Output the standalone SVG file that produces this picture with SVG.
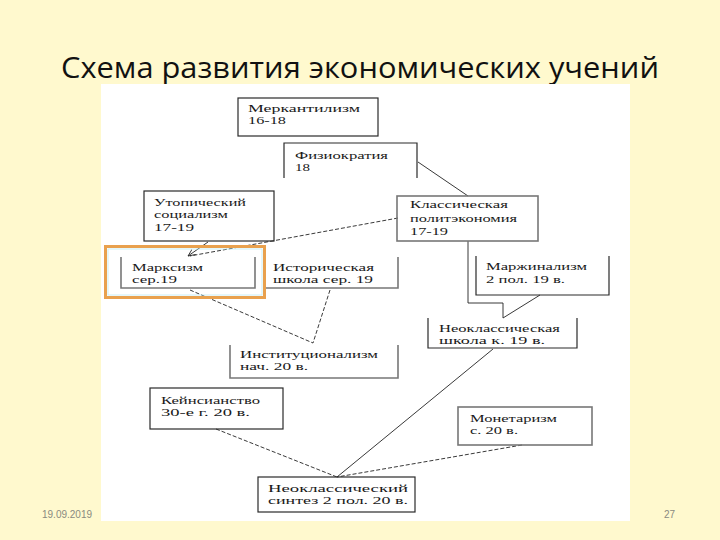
<svg xmlns="http://www.w3.org/2000/svg" width="720" height="540" viewBox="0 0 720 540">
<defs>
<style>
.t{font-family:"Liberation Serif","Times New Roman",serif;font-size:11px;fill:#1a1a1a}
.b{fill:none;stroke:#2a2a2a;stroke-width:1.2}
.g{fill:none;stroke:#777;stroke-width:1.6}
.c{fill:none;stroke:#222;stroke-width:0.9}
.d{fill:none;stroke:#222;stroke-width:0.9;stroke-dasharray:4 2}
.f{font-family:"Liberation Sans",Arial,sans-serif;font-size:10px;fill:#8a8a80}
</style>
<marker id="ah" viewBox="0 0 10 10" refX="9" refY="5" markerWidth="8" markerHeight="8" orient="auto" markerUnits="userSpaceOnUse">
<path d="M0,1 L9,5 L0,9" fill="none" stroke="#222" stroke-width="1"/>
</marker>
</defs>
<rect x="0" y="0" width="720" height="540" fill="#FFF9CE"/>
<text x="360" y="78" text-anchor="middle" font-family="Open Sans,Liberation Sans,sans-serif" font-size="30" fill="#111" textLength="598" lengthAdjust="spacingAndGlyphs">Схема развития экономических учений</text>
<rect x="101" y="84" width="529" height="437" fill="#FFFFFF"/>
<g id="connectors">
<line class="c" x1="418" y1="162" x2="468" y2="196"/>
<line class="c" x1="208" y1="242" x2="188" y2="256" marker-end="url(#ah)"/>
<line class="d" x1="398" y1="218" x2="190" y2="256"/>
<polyline class="c" points="468,241 468,303 503,303 503,318"/>
<line class="c" x1="540" y1="295" x2="503" y2="318"/>
<line class="d" x1="190" y1="290" x2="313" y2="343"/>
<line class="d" x1="330" y1="290" x2="313" y2="343"/>
<line class="d" x1="216" y1="429" x2="337" y2="477"/>
<line class="c" x1="493" y1="349" x2="337" y2="477"/>
<line class="d" x1="522" y1="445" x2="337" y2="477"/>
</g>
<g id="merkantilizm">
<rect class="b" x="238" y="98" width="140" height="38"/>
<text class="t" x="248" y="112" textLength="112" lengthAdjust="spacingAndGlyphs">Меркантилизм</text>
<text class="t" x="248" y="124" textLength="38" lengthAdjust="spacingAndGlyphs">16-18</text>
</g>
<g id="fiziokratiya">
<polyline class="b" points="284,178 284,143 417,143 417,178"/>
<text class="t" x="295" y="159" textLength="93" lengthAdjust="spacingAndGlyphs">Физиократия</text>
<text class="t" x="295" y="171" textLength="15" lengthAdjust="spacingAndGlyphs">18</text>
</g>
<g id="utopicheskiy">
<rect class="b" x="144" y="191" width="130" height="50"/>
<text class="t" x="154" y="206" textLength="92" lengthAdjust="spacingAndGlyphs">Утопический</text>
<text class="t" x="154" y="218" textLength="74" lengthAdjust="spacingAndGlyphs">социализм</text>
<text class="t" x="154" y="231" textLength="40" lengthAdjust="spacingAndGlyphs">17-19</text>
</g>
<g id="klassicheskaya">
<rect class="g" x="397" y="196" width="141" height="45"/>
<text class="t" x="410" y="208" textLength="98" lengthAdjust="spacingAndGlyphs">Классическая</text>
<text class="t" x="410" y="222" textLength="107" lengthAdjust="spacingAndGlyphs">политэкономия</text>
<text class="t" x="410" y="235" textLength="38" lengthAdjust="spacingAndGlyphs">17-19</text>
</g>
<g id="marksizm">
<polyline class="g" points="121,257 121,288 255,288 255,257"/>
<rect x="105.5" y="246.5" width="159" height="51" fill="none" stroke="#E9A14E" stroke-width="3"/>
<rect x="108" y="249" width="154" height="46" fill="none" stroke="#BDEBF2" stroke-width="0.8"/>
<text class="t" x="132" y="271" textLength="71" lengthAdjust="spacingAndGlyphs">Марксизм</text>
<text class="t" x="132" y="283" textLength="45" lengthAdjust="spacingAndGlyphs">сер.19</text>
</g>
<g id="istoricheskaya">
<polyline class="g" points="266,288 398,288 398,257"/>
<text class="t" x="273" y="271" textLength="101" lengthAdjust="spacingAndGlyphs">Историческая</text>
<text class="t" x="273" y="283" textLength="100" lengthAdjust="spacingAndGlyphs">школа сер. 19</text>
</g>
<g id="marzhinalizm">
<polyline class="b" points="476,256 476,295 609,295 609,256"/>
<text class="t" x="486" y="270" textLength="101" lengthAdjust="spacingAndGlyphs">Маржинализм</text>
<text class="t" x="486" y="283" textLength="79" lengthAdjust="spacingAndGlyphs">2 пол. 19 в.</text>
</g>
<g id="neoklassicheskaya">
<polyline class="b" points="428,318 428,348 577,348 577,318"/>
<text class="t" x="439" y="332" textLength="121" lengthAdjust="spacingAndGlyphs">Неоклассическая</text>
<text class="t" x="439" y="344" textLength="106" lengthAdjust="spacingAndGlyphs">школа к. 19 в.</text>
</g>
<g id="institucionalizm">
<polyline class="g" points="230,345 230,378 398,378 398,345"/>
<text class="t" x="240" y="358" textLength="138" lengthAdjust="spacingAndGlyphs">Институционализм</text>
<text class="t" x="240" y="370" textLength="68" lengthAdjust="spacingAndGlyphs">нач. 20 в.</text>
</g>
<g id="keynsianstvo">
<rect class="b" x="150" y="388" width="133" height="41"/>
<text class="t" x="161" y="404" textLength="99" lengthAdjust="spacingAndGlyphs">Кейнсианство</text>
<text class="t" x="161" y="416" textLength="89" lengthAdjust="spacingAndGlyphs">30-е г. 20 в.</text>
</g>
<g id="monetarizm">
<rect class="g" x="458" y="407" width="134" height="38"/>
<text class="t" x="470" y="422" textLength="87" lengthAdjust="spacingAndGlyphs">Монетаризм</text>
<text class="t" x="470" y="434" textLength="48" lengthAdjust="spacingAndGlyphs">с. 20 в.</text>
</g>
<g id="sintez">
<rect class="b" x="258" y="477" width="157" height="35"/>
<text class="t" x="268" y="492" textLength="140" lengthAdjust="spacingAndGlyphs">Неоклассический</text>
<text class="t" x="268" y="504" textLength="140" lengthAdjust="spacingAndGlyphs">синтез 2 пол. 20 в.</text>
</g>
<text class="f" x="42" y="518">19.09.2019</text>
<text class="f" x="664" y="518">27</text>
</svg>
